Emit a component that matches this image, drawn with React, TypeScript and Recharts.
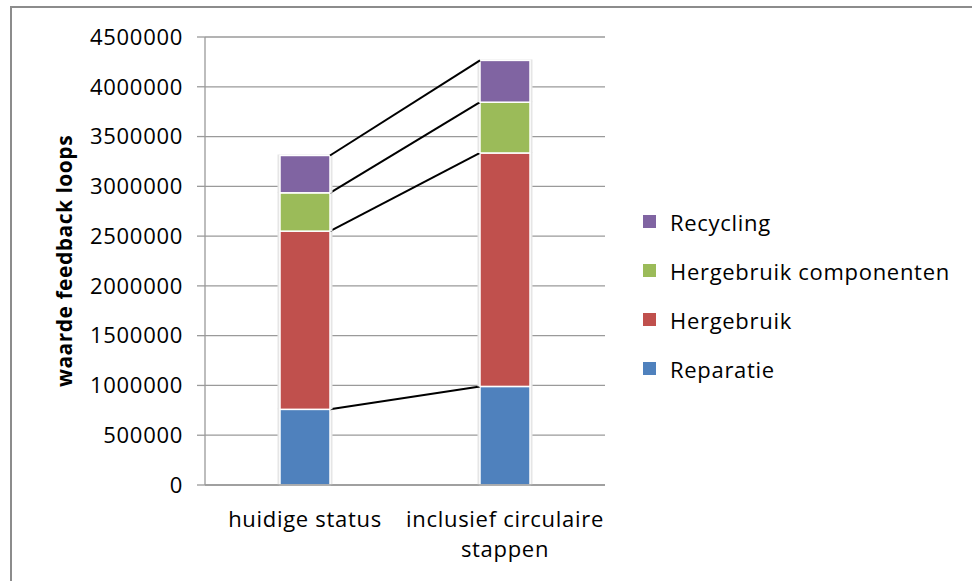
import React from "react";
import { BarChart, Bar, XAxis, YAxis, CartesianGrid } from "recharts";

const categories = ["huidige status", "inclusief circulaire stappen"];
const reparatie = [760000, 990000];
const hergebruik = [1790000, 2345000];
const hergebruikComponenten = [385000, 510000];
const recycling = [375000, 420000];
const yTicks = [0, 500000, 1000000, 1500000, 2000000, 2500000, 3000000, 3500000, 4000000, 4500000];

const series = [
  { key: "reparatie", name: "Reparatie", color: "#4F81BD", values: reparatie },
  { key: "hergebruik", name: "Hergebruik", color: "#C0504D", values: hergebruik },
  { key: "componenten", name: "Hergebruik componenten", color: "#9BBB59", values: hergebruikComponenten },
  { key: "recycling", name: "Recycling", color: "#8064A2", values: recycling },
];

const data = categories.map((c, i) => {
  const row: Record<string, string | number> = { name: c };
  series.forEach((s) => (row[s.key] = s.values[i]));
  return row;
});

const FONT = "'Open Sans', sans-serif";
const SPACING = "0.7px";

// remembers the top-right corner of the first bar of each series so the
// second bar can draw the series line back to it
const edges: Record<string, { x: number; y: number }> = {};

const makeShape = (key: string, fill: string) => (props: any) => {
  const { x, y, width, height, index } = props;
  let line = null;
  if (index === 0) {
    edges[key] = { x: x + width, y };
  } else if (edges[key]) {
    line = <line x1={edges[key].x} y1={edges[key].y} x2={x} y2={y} stroke="#000" strokeWidth={2} />;
  }
  return (
    <g>
      <rect x={x - 2.5} y={y - 1} width={width + 5} height={height + 1} fill="#e6e6e6" />
      <rect x={x} y={y} width={width} height={height} fill={fill} stroke="#fff" strokeWidth={1.5} />
      {line}
    </g>
  );
};

const wrap = (text: string, max: number) => {
  const lines: string[] = [];
  let cur = "";
  text.split(" ").forEach((w) => {
    const next = cur ? cur + " " + w : w;
    if (next.length > max && cur) {
      lines.push(cur);
      cur = w;
    } else cur = next;
  });
  if (cur) lines.push(cur);
  return lines;
};

const CategoryTick = ({ x, y, payload }: any) => {
  const lines = wrap(payload.value, 20);
  return (
    <text x={x} y={y} textAnchor="middle" fontFamily={FONT} fontSize={22} fill="#000" style={{ letterSpacing: SPACING }}>
      {lines.map((l, i) => (
        <tspan key={i} x={x} dy={i === 0 ? 34 : 30}>
          {l}
        </tspan>
      ))}
    </text>
  );
};

export default function App() {
  return (
    <div style={{ position: "absolute", left: 0, top: 0, width: 972, height: 581, overflow: "hidden", background: "#fff" }}>
      <div
        style={{
          position: "absolute",
          left: 10,
          top: 6,
          width: 1000,
          height: 700,
          border: "2px solid #8c8c8c",
          boxSizing: "border-box",
        }}
      />
      <div style={{ position: "absolute", left: 0, top: 0 }}>
        <BarChart
          width={972}
          height={581}
          data={data}
          margin={{ top: 37, right: 367, bottom: 0, left: 0 }}
          barSize={50}
        >
          <CartesianGrid horizontal vertical={false} stroke="#9a9a9a" strokeWidth={1.3} />
          <XAxis
            dataKey="name"
            axisLine={{ stroke: "#9a9a9a", strokeWidth: 1.3 }}
            tickLine={false}
            tick={<CategoryTick />}
            interval={0}
            height={96}
          />
          <YAxis
            width={205}
            domain={[0, 4500000]}
            ticks={yTicks}
            interval={0}
            tickSize={8}
            tickMargin={14}
            axisLine={{ stroke: "#9a9a9a", strokeWidth: 1.3 }}
            tickLine={{ stroke: "#9a9a9a", strokeWidth: 1.3 }}
            tick={{ fontFamily: FONT, fontSize: 22, fill: "#000", style: { letterSpacing: SPACING } }}
            label={{
              value: "waarde feedback loops",
              angle: -90,
              position: "insideLeft",
              dx: 60,
              style: { fontFamily: FONT, fontSize: 21, fontWeight: 700, fill: "#000", textAnchor: "middle", letterSpacing: "0.5px" },
            }}
          />
          {series.map((s) => (
            <Bar
              key={s.key}
              dataKey={s.key}
              name={s.name}
              stackId="a"
              fill={s.color}
              shape={makeShape(s.key, s.color)}
              isAnimationActive={false}
            />
          ))}
        </BarChart>
      </div>
      <div style={{ position: "absolute", left: 643, top: 197 }}>
        {[...series].reverse().map((s) => (
          <div
            key={s.key}
            style={{
              display: "flex",
              alignItems: "center",
              height: 49,
              fontFamily: FONT,
              fontSize: 22,
              letterSpacing: SPACING,
              color: "#000",
            }}
          >
            <span style={{ display: "inline-block", width: 13, height: 13, background: s.color, marginRight: 14 }} />
            <span>{s.name}</span>
          </div>
        ))}
      </div>
    </div>
  );
}
